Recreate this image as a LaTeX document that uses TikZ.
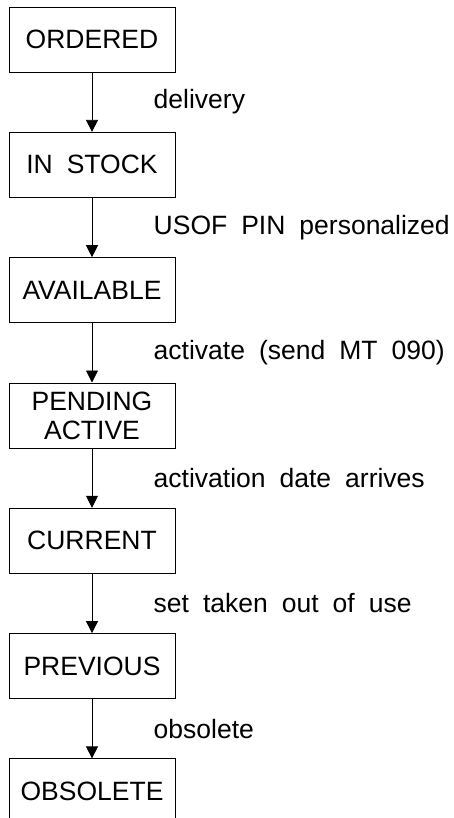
\documentclass[tikz,border=0pt]{standalone}
\usepackage{fontspec}
\setmainfont{Liberation Sans}[WordSpace=1.9]
\usetikzlibrary{arrows.meta, positioning}

\begin{document}
\begin{tikzpicture}[>={Triangle[length=12pt,width=12pt]},node distance=59.5pt,
			line width=0.8pt,font=\fontsize{26.5}{29}\selectfont,
			state node/.style={rectangle,draw,minimum width=166pt,minimum height=65pt,align=center,inner sep=0pt}]
			
			\useasboundingbox (0,0) rectangle (453pt,-818pt);
			
			\node[state node] (ordered) at (92pt,-39.5pt) {ORDERED};
			\node[state node] (instock) [below=of ordered] {IN STOCK};
			\node[state node] (available) [below=of instock] {AVAILABLE};
			\node[state node] (pending) [below=of available] {PENDING\\ACTIVE};
			\node[state node] (current) [below=of pending] {CURRENT};
			\node[state node] (previous) [below=of current] {PREVIOUS};
			\node[state node] (obsolete) [below=of previous] {OBSOLETE};
			
			\path[->,every node/.style={right=58pt}]
			(ordered) edge node {delivery} (instock)
			(instock) edge node {USOF PIN personalized} (available)
			(available) edge node {activate (send MT 090)} (pending)
			(pending) edge node {activation date arrives} (current)
			(current) edge node {set taken out of use} (previous)
			(previous) edge node {obsolete} (obsolete);
		\end{tikzpicture}
\end{document}
